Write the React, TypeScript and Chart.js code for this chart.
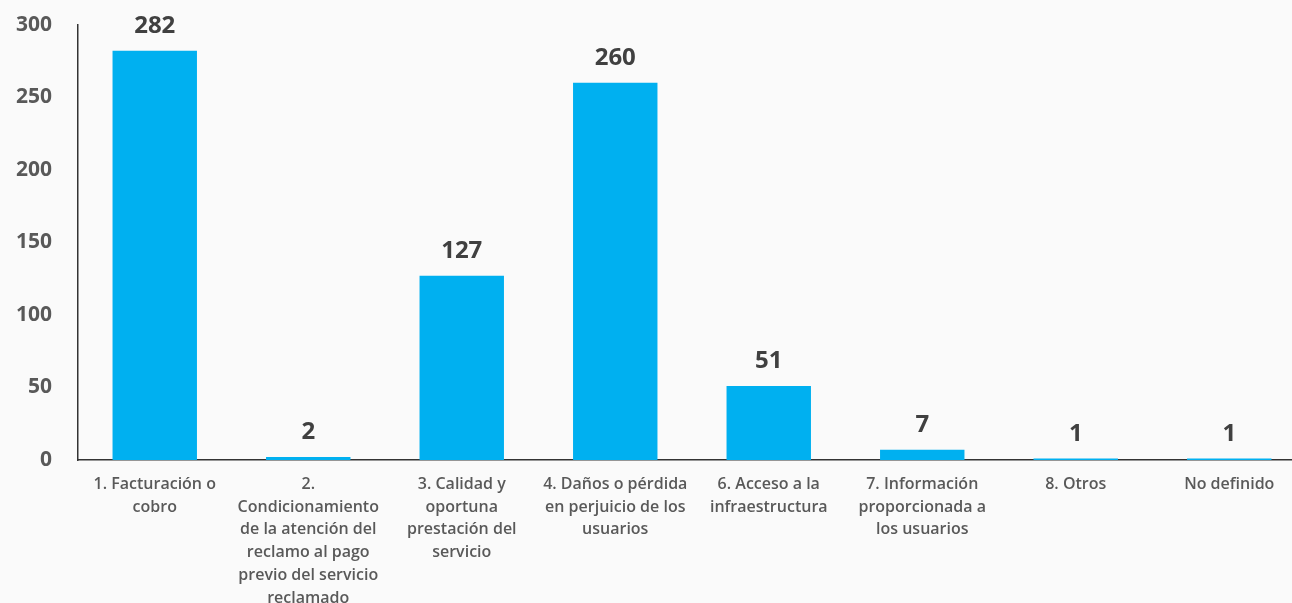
import React, { useEffect, useRef } from "react";
import { Chart, registerables } from "chart.js";

Chart.register(...registerables);

const categories: string[][] = [
  ["1. Facturación o", "cobro"],
  ["2.", "Condicionamiento", "de la atención del", "reclamo al pago", "previo del servicio", "reclamado"],
  ["3. Calidad y", "oportuna", "prestación del", "servicio"],
  ["4. Daños o pérdida", "en perjuicio de los", "usuarios"],
  ["6. Acceso a la", "infraestructura"],
  ["7. Información", "proporcionada a", "los usuarios"],
  ["8. Otros"],
  ["No definido"],
];
const values: number[] = [282, 2, 127, 260, 51, 7, 1, 1];
const yTicks: number[] = [0, 50, 100, 150, 200, 250, 300];

const FONT = "'Open Sans', 'DejaVu Sans', sans-serif";
const CANVAS_W = 1312;
const CANVAS_H = 660;
const SHIFT = 14;
const PLOT_BOTTOM = 460 + SHIFT;

const dataLabels = {
  id: "dataLabels",
  afterDatasetsDraw(chart: any) {
    const ctx = chart.ctx;
    const meta = chart.getDatasetMeta(0);
    ctx.save();
    ctx.font = `700 24px ${FONT}`;
    ctx.fillStyle = "#404040";
    ctx.textAlign = "center";
    ctx.textBaseline = "alphabetic";
    meta.data.forEach((el: any, i: number) => {
      ctx.fillText(String(values[i]), el.x, el.y - 18);
    });
    ctx.restore();
  },
};

export default function App() {
  const ref = useRef<HTMLCanvasElement | null>(null);
  useEffect(() => {
    if (!ref.current) return;
    const chart = new Chart(ref.current, {
      type: "bar",
      data: {
        labels: categories,
        datasets: [
          {
            data: values,
            backgroundColor: "#00B0F0",
            borderWidth: 0,
            categoryPercentage: 1,
            barPercentage: 0.55,
          },
        ],
      },
      options: {
        responsive: false,
        animation: false,
        devicePixelRatio: 1,
        layout: { padding: { top: 0, right: 6, left: 0, bottom: 0 } },
        plugins: {
          legend: { display: false },
          tooltip: { enabled: false },
        },
        scales: {
          x: {
            grid: { display: false, drawTicks: false },
            border: { display: true, color: "#333333", width: 1.5 },
            ticks: {
              color: "#595959",
              font: { family: FONT, size: 16, weight: "600", lineHeight: 1.42 },
              padding: 13,
              maxRotation: 0,
              autoSkip: false,
            },
            afterFit: (s: any) => {
              s.height = CANVAS_H - PLOT_BOTTOM;
            },
          },
          y: {
            min: 0,
            max: 300,
            afterBuildTicks: (s: any) => {
              s.ticks = yTicks.map((v) => ({ value: v }));
            },
            grid: { display: false, drawTicks: false },
            border: { display: true, color: "#333333", width: 1.5 },
            ticks: {
              color: "#595959",
              font: { family: FONT, size: 21, weight: "700" },
              padding: 26,
            },
            afterFit: (s: any) => {
              s.width = 78;
            },
          },
        },
      },
      plugins: [dataLabels],
    });
    return () => chart.destroy();
  }, []);
  return (
    <div
      style={{
        position: "fixed",
        left: 0,
        top: 0,
        width: 1292,
        height: 603,
        overflow: "hidden",
        background: "#fafafa",
      }}
    >
      <canvas
        ref={ref}
        width={CANVAS_W}
        height={CANVAS_H}
        style={{ display: "block", marginTop: -SHIFT }}
      />
    </div>
  );
}
